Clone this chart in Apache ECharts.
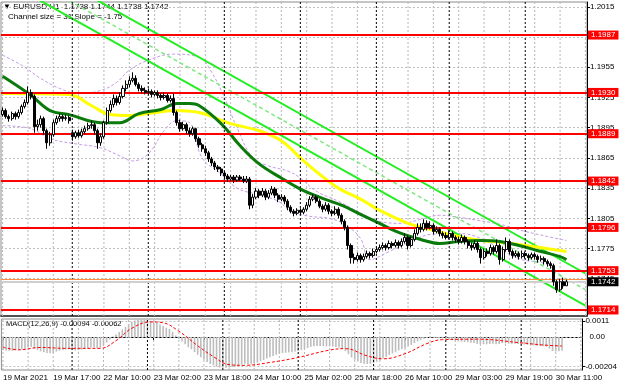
<!DOCTYPE html>
<html><head><meta charset="utf-8">
<script src="https://cdn.jsdelivr.net/npm/echarts@6/dist/echarts.min.js"></script>
<style>html,body{margin:0;padding:0;background:#fff}#c{width:620px;height:388px}</style>
</head><body><div id="c"></div>
<script>
// ---- time axis: trading sessions [day, first hour, last hour] ----
const sessions = [['19 Mar',1,22],['22 Mar',0,23],['23 Mar',0,23],['24 Mar',0,23],['25 Mar',0,23],['26 Mar',0,22],['29 Mar',0,23],['30 Mar',0,19]];
const firstLabel = '19 Mar 2021';
const base = 1.17; // prices below are pips above 1.1700
const openPips = [208,212,206,204,209,206,210,216,220,230,226,196,198,204,192,180,188,200,204,206,204,205,190,186,190,187,191,194,197,198,192,180,186,200,212,218,224,220,226,234,238,242,244,238,234,232,230,231,228,230,227,225,227,222,224,210,200,194,198,192,189,194,184,178,174,170,164,160,156,154,150,147,144,146,143,146,144,142,144,118,126,132,128,132,126,130,134,128,124,126,122,116,112,110,113,111,114,118,124,126,122,117,114,118,112,110,114,108,102,96,78,66,64,68,64,67,70,68,72,74,76,78,76,80,78,81,78,82,86,78,84,90,96,94,100,96,98,92,94,90,88,86,90,86,84,82,86,82,78,76,80,74,66,72,70,76,72,78,64,74,82,72,68,70,67,70,68,66,69,67,64,65,62,60,58,42,34,42,38];
const highPips = [215,214,208,211,211,213,218,223,236,233,228,203,207,206,194,191,203,207,209,208,208,207,193,192,193,194,197,200,202,200,194,189,202,215,222,228,227,230,237,242,246,250,247,240,237,235,234,233,232,232,229,230,229,227,229,212,203,201,200,195,196,195,186,180,177,172,166,162,158,156,152,149,148,148,148,148,147,147,146,129,135,134,135,134,133,137,136,130,129,128,124,118,114,115,115,116,121,127,129,128,124,119,121,120,114,117,116,110,104,98,80,70,71,70,70,73,72,75,77,79,81,80,83,82,84,83,85,90,88,87,94,100,100,104,103,102,100,97,96,92,91,93,92,88,87,89,88,84,81,83,82,76,75,75,79,78,84,80,77,86,84,74,73,72,73,72,70,71,71,69,68,67,64,62,60,44,45,46,44];
const lowPips = [206,204,201,202,203,204,208,214,218,223,190,192,195,188,174,177,186,198,201,201,202,199,182,184,185,185,189,192,194,188,174,177,184,198,210,215,217,218,224,231,235,240,236,231,229,228,228,225,226,224,222,223,220,220,207,197,191,192,189,186,187,181,175,171,167,161,157,153,151,147,144,141,142,140,141,142,140,140,114,115,124,125,126,123,124,128,125,121,122,119,113,110,107,108,109,109,112,116,122,120,115,111,112,109,107,108,105,99,93,74,60,60,62,61,62,65,65,66,70,72,74,73,74,75,76,75,76,80,74,76,82,88,91,92,93,94,89,90,87,85,84,84,83,81,79,80,79,75,73,74,71,60,64,67,68,69,70,59,62,72,69,65,66,64,65,65,63,64,64,61,62,59,57,55,38,31,32,35,38];
const closePips = [212,206,204,209,206,210,216,220,230,226,196,198,204,192,180,188,200,204,206,204,205,202,186,190,187,191,194,197,198,192,180,186,200,212,218,224,220,226,234,238,242,244,238,234,232,230,231,228,230,227,225,227,222,224,210,200,194,198,192,189,194,184,178,174,170,164,160,156,154,150,147,144,146,143,146,144,142,144,118,126,132,128,132,126,130,134,128,124,126,122,116,112,110,113,111,114,118,124,126,122,117,114,118,112,110,114,108,102,96,78,66,64,68,64,67,70,68,72,74,76,78,76,80,78,81,78,82,86,78,84,90,96,94,100,96,98,92,94,90,88,86,90,86,84,82,86,82,78,76,80,74,66,72,70,76,72,78,64,74,82,72,68,70,67,70,68,66,69,67,64,65,62,60,58,42,34,42,38,42];
// moving averages and bands, sampled [bar, pips]
const maGreen = [[0,246],[9,227],[15,212],[21,208],[31,200],[37,200],[43,209],[50,213],[55,219],[59,219],[62,217],[69,199],[75,177],[81,159],[88,145],[94,134],[100,126],[107,118],[113,109],[119,100],[125,91],[132,84],[138,80],[144,82],[151,83],[157,82],[163,78],[170,72],[176,67],[178,64]];
const maYellow = [[0,229],[21,228],[28,217],[34,208],[40,207],[46,209],[54,212],[62,210],[72,199],[81,192],[88,182],[94,165],[100,149],[106,135],[113,124],[119,113],[128,100],[135,94],[147,85],[163,79],[178,72]];
const bandUpper = [[0,267],[6,257],[12,244],[18,234],[24,229],[31,232],[36,240],[40,252],[46,262],[54,268],[62,265],[66,250],[70,225],[74,195],[79,165],[84,157],[90,152],[94,145],[99,132],[106,122],[112,112],[119,102],[126,100],[132,104],[138,108],[144,106],[150,103],[157,99],[165,92],[172,87],[178,83]];
const bandLower = [[0,197],[9,194],[15,184],[23,179],[31,175],[37,167],[41,162],[46,169],[51,192],[55,202],[59,200],[63,165],[69,149],[74,135],[80,129],[87,122],[91,112],[97,107],[103,105],[108,99],[113,85],[116,64],[122,72],[129,82],[135,89],[144,90],[151,85],[163,65],[172,59],[178,42]];
// regression channel [bar, price]
const channelLower = [[0,1.20421],[184,1.17182]];
const channelMid = [[0,1.20581],[184,1.17342]];
const channelUpper = [[0,1.20741],[184,1.17502]];
const levels = [1.1987,1.1930,1.1889,1.1842,1.1796,1.1753,1.1714];
const bidPrice = 1.1742, askPrice = 1.17445;
const priceMin = 1.1708, priceMax = 1.20198;
const priceTicks = [1.2015,1.1985,1.1955,1.1925,1.1895,1.1865,1.1835,1.1805,1.1775,1.1745,1.1715];
// MACD (units of 0.00001)
const macdHist = [-90,-92,-95,-95,-92,-88,-85,-80,-72,-68,-78,-90,-98,-104,-110,-112,-108,-100,-94,-90,-86,-84,-90,-92,-90,-86,-82,-78,-72,-70,-76,-72,-58,-38,-18,4,18,34,52,70,88,104,114,120,122,120,118,112,104,96,86,76,64,56,36,10,-14,-30,-50,-70,-84,-104,-122,-140,-156,-172,-186,-196,-204,-210,-212,-212,-210,-206,-202,-196,-190,-184,-190,-190,-184,-176,-166,-158,-148,-140,-130,-122,-114,-110,-108,-106,-104,-100,-96,-90,-84,-76,-68,-64,-62,-62,-62,-64,-64,-66,-68,-72,-78,-96,-118,-140,-156,-168,-178,-184,-186,-184,-178,-170,-160,-148,-136,-124,-112,-102,-92,-82,-76,-66,-54,-42,-30,-20,-12,-6,-4,-4,-6,-8,-10,-14,-18,-22,-26,-30,-32,-34,-36,-40,-42,-48,-48,-50,-50,-48,-46,-50,-48,-42,-44,-46,-46,-46,-48,-50,-52,-54,-56,-58,-60,-62,-64,-66,-80,-96,-100,-98,-94];
const macdSignal = [[0,-70],[5,-88],[12,-72],[20,-78],[31,-78],[36,-25],[41,60],[47,104],[51,98],[56,40],[62,-60],[67,-135],[72,-190],[77,-195],[85,-175],[93,-145],[104,-90],[109,-80],[116,-130],[121,-150],[128,-115],[135,-45],[140,-18],[151,-15],[165,-40],[172,-55],[178,-62]];
const macdMin = -0.00227, macdMax = 0.00124;
const macdTicks = [0.0011, -0.00204];
const macdTickText = ['0.0011','-0.00204'];
const macdZeroText = '0.00';
const titleText = '\u25BC EURUSD,H1  1.1738 1.1744 1.1738 1.1742';
const channelText = 'Channel size = 31 Slope = -1.75';
const macdText = 'MACD(12,26,9) -0.00094 -0.00062';

// ---- build ----
const categories = [];
sessions.forEach(([d,h0,h1]) => { for (let h=h0; h<=h1; h++) categories.push(d + ' ' + String(h).padStart(2,'0') + ':00'); });
const sepIdx = []; let acc = 0;
sessions.forEach((s,k) => { if (k>0) sepIdx.push(acc); acc += s[2]-s[1]+1; });
const gridIdx = categories.map((c,i)=>i).filter(i => i % 8 === 0 && sepIdx.indexOf(i) < 0);
const P = v => +(base + v/10000).toFixed(5);
const candles = closePips.map((c,i) => [P(openPips[i]), P(c), P(lowPips[i]), P(highPips[i])]);
const pairP = arr => arr.map(([i,v]) => [i, P(v)]);
const FONT = '"Liberation Sans", Arial, sans-serif';
const gridLine = {color:'#c0c0c0', type:[2,2], width:1};
const every16 = (i) => i % 16 === 0;

// vertical lines: each is a two-point line series at a category position
const vLines = (xi, yi, idx, lo, hi, color, dash, z) => idx.map(i => ({
  type:'line', xAxisIndex:xi, yAxisIndex:yi, silent:true, z:z, symbol:'none',
  data:[[i, lo],[i, hi]],
  lineStyle:{color:color, width:1, type:dash}
}));

const levelLines = levels.map(v => ({
  yAxis: v, lineStyle:{color:'#ff0000', width:2, type:'solid'},
  label:{show:true, position:'end', distance:1, formatter: v.toFixed(4), backgroundColor:'#ff0000', color:'#fff', fontSize:8, fontFamily:FONT, padding:[1,3,0,3]}
}));

const chart = echarts.init(document.getElementById('c'), null, {renderer:'canvas'});
chart.setOption({
  animation:false,
  backgroundColor:'#fff',
  grid:[
    {left:1, top:2, width:586, height:314, show:true, borderColor:'#8c8c8c', borderWidth:1},
    {left:1, top:319, width:586, height:51, show:true, borderColor:'#8c8c8c', borderWidth:1}
  ],
  xAxis:[
    {type:'category', gridIndex:0, data:categories, boundaryGap:true,
     axisLine:{show:true, lineStyle:{color:'#505050', width:2}}, axisTick:{show:false}, axisLabel:{show:false}, splitLine:{show:false}},
    {type:'category', gridIndex:1, data:categories, boundaryGap:true,
     axisLine:{show:true, lineStyle:{color:'#000', width:1}},
     axisTick:{show:true, interval:every16, alignWithLabel:true, length:3, lineStyle:{color:'#000'}},
     axisLabel:{show:true, interval:every16, align:'left', margin:4, fontSize:8, fontFamily:FONT, color:'#000',
       formatter:(v,i)=> i===0 ? firstLabel : v},
     splitLine:{show:false}}
  ],
  yAxis:[
    {type:'value', gridIndex:0, position:'right', min:priceMin, max:priceMax,
     axisLine:{show:true, lineStyle:{color:'#000'}},
     axisTick:{show:true, length:3, customValues:priceTicks, lineStyle:{color:'#000'}},
     axisLabel:{customValues:priceTicks, formatter:v=>Number(v).toFixed(4), fontSize:8, fontFamily:FONT, color:'#000', margin:3},
     splitLine:{show:true, lineStyle:gridLine}},
    {type:'value', gridIndex:1, position:'right', min:macdMin, max:macdMax,
     axisLine:{show:true, lineStyle:{color:'#000'}},
     axisTick:{show:true, length:3, customValues:macdTicks, lineStyle:{color:'#000'}},
     axisLabel:{customValues:macdTicks, formatter:v=>macdTickText[Math.abs(Number(v)-macdTicks[0])<1e-6?0:1], fontSize:8, fontFamily:FONT, color:'#000', margin:3},
     splitLine:{show:true, lineStyle:gridLine}}
  ],
  series:[
    ...vLines(0, 0, gridIdx, priceMin, priceMax, '#b8b8b8', [2,2], 1),
    ...vLines(1, 1, gridIdx, macdMin, macdMax, '#b8b8b8', [2,2], 1),
    {type:'line', xAxisIndex:0, yAxisIndex:0, data:pairP(bandUpper), smooth:0.4, symbol:'none', lineStyle:{color:'#c59be6', width:1, type:[3,2]}, z:2},
    {type:'line', xAxisIndex:0, yAxisIndex:0, data:pairP(bandLower), smooth:0.4, symbol:'none', lineStyle:{color:'#c59be6', width:1, type:[3,2]}, z:2},
    {type:'line', xAxisIndex:0, yAxisIndex:0, data:channelMid, symbol:'none', lineStyle:{color:'#7de87d', width:1.5, type:[4,3]}, z:3},
    {type:'line', xAxisIndex:0, yAxisIndex:0, data:channelLower, symbol:'none', lineStyle:{color:'#22ee22', width:2}, z:3},
    {type:'line', xAxisIndex:0, yAxisIndex:0, data:channelUpper, symbol:'none', lineStyle:{color:'#22ee22', width:2}, z:3},
    {type:'line', xAxisIndex:0, yAxisIndex:0, data:pairP(maYellow), smooth:0.4, symbol:'none', lineStyle:{color:'#ffff00', width:3}, z:4},
    {type:'line', xAxisIndex:0, yAxisIndex:0, data:pairP(maGreen), smooth:0.4, symbol:'none', lineStyle:{color:'#0a7a0a', width:3}, z:4},
    ...vLines(0, 0, sepIdx, priceMin, priceMax, '#000000', [2,2], 4),
    {type:'candlestick', xAxisIndex:0, yAxisIndex:0, data:candles, barWidth:2.6, z:5,
     itemStyle:{color:'#ffffff', color0:'#000000', borderColor:'#000000', borderColor0:'#000000', borderWidth:1},
     markLine:{silent:true, symbol:'none', precision:6, animation:false, data:[
       {yAxis:askPrice, lineStyle:{color:'#ff8c3c', width:1, type:'solid'}, label:{show:false}},
       {yAxis:bidPrice, lineStyle:{color:'#cfcfcf', width:2, type:'solid'},
        label:{show:true, position:'end', distance:1, formatter:bidPrice.toFixed(4), backgroundColor:'#000', color:'#fff', fontSize:8, fontFamily:FONT, padding:[1,3,0,3]}},
       ...levelLines
     ]}},
    {type:'bar', xAxisIndex:1, yAxisIndex:1, data:macdHist.map(v=>v/1e5), barWidth:1.6, itemStyle:{color:'#bdbdbd'},
     markLine:{silent:true, symbol:'none', precision:6, animation:false, data:[
       {yAxis:0, lineStyle:{color:'#c0c0c0', width:1, type:[2,2]},
        label:{show:true, position:'end', distance:7, formatter:macdZeroText, color:'#000', fontSize:8, fontFamily:FONT}}
     ]}},
    ...vLines(1, 1, sepIdx, macdMin, macdMax, '#000000', [2,2], 4),
    {type:'line', xAxisIndex:1, yAxisIndex:1, data:macdSignal.map(([i,v])=>[i, v/1e5]), smooth:0.4, symbol:'none', lineStyle:{color:'#ff0000', width:1, type:[3,2]}, z:5}
  ],
  graphic:[
    {type:'text', left:3, top:3, style:{text:titleText, font:'8px '+FONT, fill:'#000'}},
    {type:'text', left:8, top:13, style:{text:channelText, font:'8px '+FONT, fill:'#000'}},
    {type:'text', left:6, top:320, style:{text:macdText, font:'7.5px '+FONT, fill:'#000'}}
  ]
});
</script></body></html>
